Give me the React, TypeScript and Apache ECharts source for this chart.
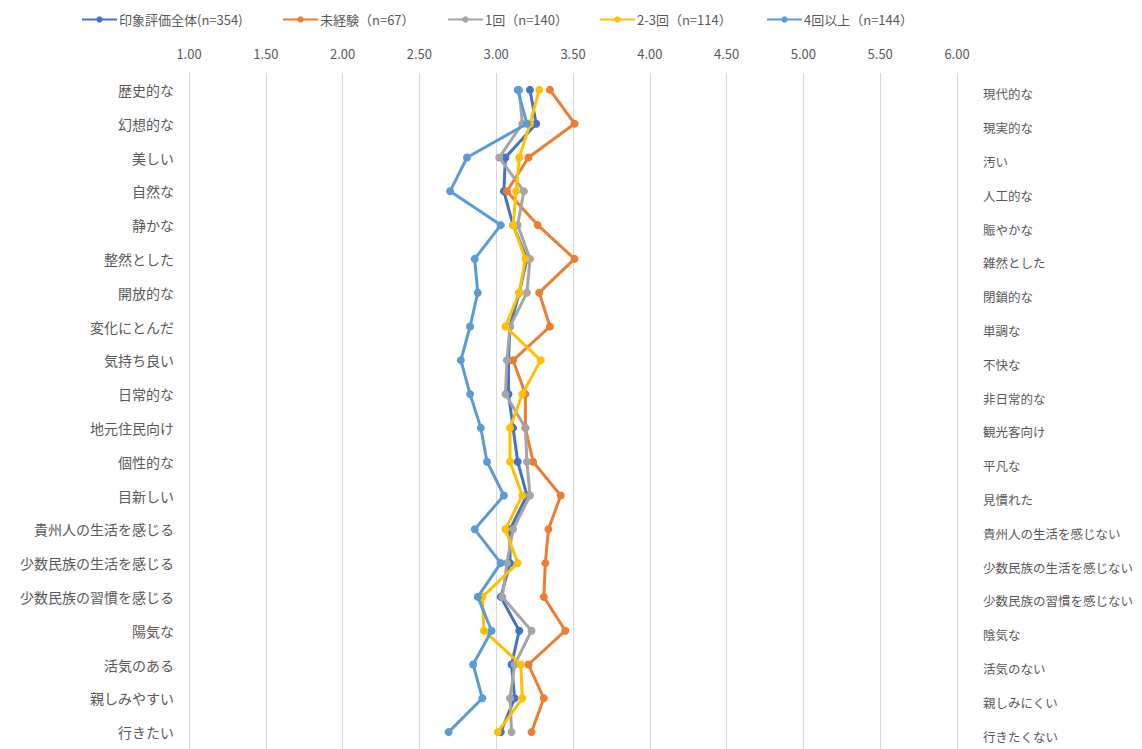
import React, { useEffect, useRef } from "react";
import * as echarts from "echarts";

// Adjective pairs (left / right poles of each scale)
const leftLabels = [
  "歴史的な", "幻想的な", "美しい", "自然な", "静かな", "整然とした", "開放的な",
  "変化にとんだ", "気持ち良い", "日常的な", "地元住民向け", "個性的な", "目新しい",
  "貴州人の生活を感じる", "少数民族の生活を感じる", "少数民族の習慣を感じる",
  "陽気な", "活気のある", "親しみやすい", "行きたい",
];
const rightLabels = [
  "現代的な", "現実的な", "汚い", "人工的な", "賑やかな", "雑然とした", "閉鎖的な",
  "単調な", "不快な", "非日常的な", "観光客向け", "平凡な", "見慣れた",
  "貴州人の生活を感じない", "少数民族の生活を感じない", "少数民族の習慣を感じない",
  "陰気な", "活気のない", "親しみにくい", "行きたくない",
];

const seriesNames = [
  "印象評価全体(n=354)",
  "未経験（n=67）",
  "1回（n=140）",
  "2-3回（n=114）",
  "4回以上（n=144）",
];

// Mean scores per group, in the same order as the labels
const overall = [3.22, 3.26, 3.06, 3.05, 3.11, 3.2, 3.15, 3.09, 3.08, 3.08, 3.11, 3.14, 3.2, 3.09, 3.09, 3.03, 3.15, 3.1, 3.12, 3.03];
const never = [3.35, 3.51, 3.21, 3.07, 3.27, 3.51, 3.28, 3.35, 3.11, 3.19, 3.19, 3.24, 3.42, 3.34, 3.32, 3.31, 3.45, 3.21, 3.31, 3.23];
const once = [3.15, 3.17, 3.02, 3.18, 3.14, 3.22, 3.2, 3.09, 3.07, 3.06, 3.19, 3.2, 3.22, 3.11, 3.07, 3.04, 3.23, 3.12, 3.09, 3.1];
const twoThree = [3.28, 3.22, 3.15, 3.13, 3.11, 3.19, 3.15, 3.06, 3.29, 3.17, 3.09, 3.09, 3.17, 3.06, 3.14, 2.91, 2.92, 3.16, 3.17, 3.01];
const fourPlus = [3.14, 3.2, 2.81, 2.7, 3.03, 2.86, 2.88, 2.83, 2.77, 2.83, 2.9, 2.94, 3.05, 2.86, 3.03, 2.88, 2.97, 2.85, 2.91, 2.69];

const seriesData = [overall, never, once, twoThree, fourPlus];
const colors = ["#4472C4", "#ED7D31", "#A5A5A5", "#FFC000", "#5B9BD5"];

// left edge of each legend entry
const legendLefts = [76, 277, 442, 594, 761];

const FONT = '"Noto Sans CJK JP", "Noto Sans", sans-serif';

export default function App() {
  const ref = useRef<HTMLDivElement>(null);

  useEffect(() => {
    if (!ref.current) return;
    const chart = echarts.init(ref.current, null, { renderer: "svg" });
    chart.setOption({
      animation: false,
      backgroundColor: "#ffffff",
      color: colors,
      textStyle: { fontFamily: FONT, color: "#595959" },
      legend: seriesNames.map((name, i) => ({
        top: 8,
        left: legendLefts[i],
        itemWidth: 35,
        itemHeight: 8,
        textStyle: { fontSize: 13, color: "#595959", padding: [0, 0, 0, -3] },
        data: [name],
      })),
      grid: { left: 189, right: 185, top: 73, bottom: 0, containLabel: false },
      xAxis: {
        type: "value",
        position: "top",
        min: 1,
        max: 6,
        interval: 0.5,
        axisLine: { show: false },
        axisTick: { show: false },
        splitLine: { show: true, lineStyle: { color: "#d9d9d9", width: 1 } },
        axisLabel: {
          margin: 13,
          fontSize: 13,
          color: "#595959",
          formatter: (v: number) => v.toFixed(2),
        },
      },
      yAxis: [
        {
          type: "category",
          inverse: true,
          data: leftLabels,
          axisLine: { show: true, lineStyle: { color: "#d9d9d9", width: 1 } },
          axisTick: { show: false },
          splitLine: { show: false },
          axisLabel: { margin: 15, fontSize: 14, color: "#595959" },
        },
        {
          type: "category",
          inverse: true,
          position: "right",
          data: rightLabels,
          axisLine: { show: false },
          axisTick: { show: false },
          splitLine: { show: false },
          axisLabel: {
            margin: 26,
            fontSize: 12.5,
            color: "#595959",
            verticalAlign: "top",
            lineHeight: 8,
          },
        },
      ],
      series: seriesNames.map((name, i) => ({
        name,
        type: "line",
        yAxisIndex: 0,
        data: seriesData[i],
        symbol: "circle",
        symbolSize: 8,
        lineStyle: { width: 3, color: colors[i] },
        itemStyle: { color: colors[i] },
        z: 2 + i,
      })),
    });
    return () => chart.dispose();
  }, []);

  return (
    <div
      ref={ref}
      style={{ position: "fixed", left: 0, top: 0, width: 1142, height: 749, background: "#fff" }}
    />
  );
}
